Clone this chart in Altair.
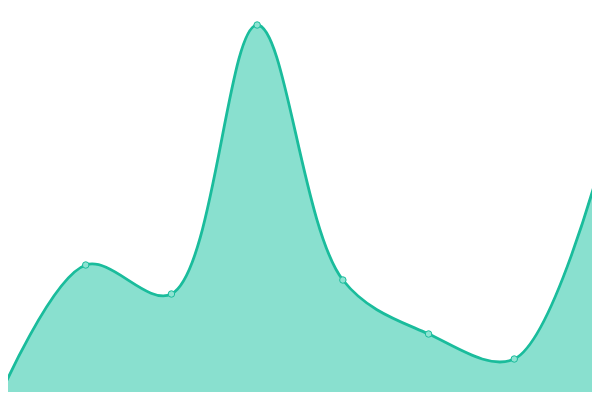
import altair as alt
import pandas as pd

idx = [0, 1, 2, 3, 4, 5, 6, 7]
values = [4.5, 135, 106, 375, 120, 66, 41, 235]

df = pd.DataFrame({"i": idx, "v": values})

# plot area occupies page pixels 8..592 x 8..392
xs = alt.Scale(domain=[0.0933, 6.9067], nice=False, zero=False)
ys = alt.Scale(domain=[8, 392], nice=False, zero=False)

base = alt.Chart(df).encode(
    x=alt.X("i:Q", scale=xs, axis=None),
    y=alt.Y("v:Q", scale=ys, axis=None),
)

area = base.mark_area(interpolate="catmull-rom", color="#89e0cf").encode(y2=alt.datum(0))
line = base.mark_line(interpolate="catmull-rom", color="#1abc9c", strokeWidth=2.8)
pts = base.mark_point(filled=False, shape="circle", size=42, fill="#8ee3d2",
                      stroke="#1abc9c", strokeWidth=1, opacity=1)

chart = (area + line + pts).properties(
    width=584, height=384, padding=0,
    autosize=alt.AutoSizeParams(type="none"),
).configure_view(stroke=None)

chart.save("out.html", embed_options={"renderer": "svg", "actions": False})
